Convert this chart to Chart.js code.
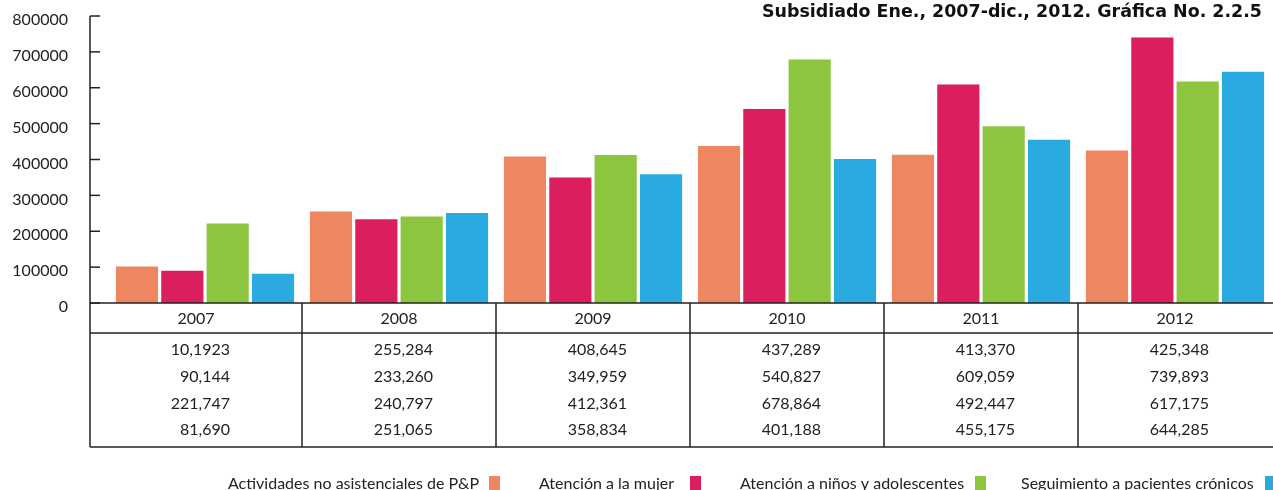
<!DOCTYPE html>
<html>
<head>
<meta charset="utf-8">
<script src="https://cdn.jsdelivr.net/npm/chart.js@4/dist/chart.umd.min.js"></script>
<style>
  html, body { margin: 0; padding: 0; background: #fff; }
  #wrap { width: 1273px; height: 490px; }
</style>
</head>
<body>
<div id="wrap"><canvas id="grafica"></canvas></div>
<script>
// datos
const anios = ['2007', '2008', '2009', '2010', '2011', '2012'];
const actividades = [101923, 255284, 408645, 437289, 413370, 425348];
const mujer = [90144, 233260, 349959, 540827, 609059, 739893];
const ninos = [221747, 240797, 412361, 678864, 492447, 617175];
const cronicos = [81690, 251065, 358834, 401188, 455175, 644285];

// texto de la tabla tal como aparece (incluye el 10,1923 del original)
const txtActividades = ['10,1923', '255,284', '408,645', '437,289', '413,370', '425,348'];
const txtMujer = ['90,144', '233,260', '349,959', '540,827', '609,059', '739,893'];
const txtNinos = ['221,747', '240,797', '412,361', '678,864', '492,447', '617,175'];
const txtCronicos = ['81,690', '251,065', '358,834', '401,188', '455,175', '644,285'];

const nombres = ['Actividades no asistenciales de P&P', 'Atención a la mujer', 'Atención a niños y adolescentes', 'Seguimiento a pacientes crónicos'];
const colores = ['#EF8662', '#DB1E5D', '#8CC63F', '#29AAE1'];
const titulo = 'Subsidiado Ene., 2007-dic., 2012. Gráfica No. 2.2.5';

const fuente = 'Lato, "Open Sans", sans-serif';
const ejeX = 90; // linea vertical del eje y tabla

const tablaPlugin = {
  id: 'tabla',
  afterDraw(chart) {
    const ctx = chart.ctx;
    const x = chart.scales.x;
    const y = chart.scales.y;
    const base = y.getPixelForValue(0);
    const right = chart.width;
    const filaHead = base + 30;
    const fondo = base + 144;

    ctx.save();
    ctx.strokeStyle = '#222';
    ctx.lineWidth = 1.5;

    // eje vertical desde arriba hasta el fondo de la tabla
    ctx.beginPath();
    ctx.moveTo(ejeX, y.getPixelForValue(800000));
    ctx.lineTo(ejeX, fondo);
    ctx.stroke();

    // marcas del eje hacia dentro y sus etiquetas
    ctx.fillStyle = '#222';
    ctx.font = '16px ' + fuente;
    ctx.textAlign = 'right';
    ctx.textBaseline = 'middle';
    y.ticks.forEach(t => {
      const py = y.getPixelForValue(t.value);
      ctx.beginPath();
      ctx.moveTo(ejeX, py);
      ctx.lineTo(ejeX + 10, py);
      ctx.stroke();
      ctx.fillText(String(t.value), 68, py + 4);
    });

    // lineas horizontales
    [base, filaHead, fondo].forEach(py => {
      ctx.beginPath();
      ctx.moveTo(ejeX, py);
      ctx.lineTo(right, py);
      ctx.stroke();
    });

    // separadores entre años
    for (let i = 1; i < anios.length; i++) {
      const px = (x.getPixelForValue(i - 1) + x.getPixelForValue(i)) / 2;
      ctx.beginPath();
      ctx.moveTo(px, base);
      ctx.lineTo(px, fondo);
      ctx.stroke();
    }

    // textos de la tabla
    const filas = [txtActividades, txtMujer, txtNinos, txtCronicos];
    ctx.font = '16px ' + fuente;
    anios.forEach((a, i) => {
      const izq = i === 0 ? ejeX : (x.getPixelForValue(i - 1) + x.getPixelForValue(i)) / 2;
      const der = i === anios.length - 1 ? x.getPixelForValue(i) + (x.getPixelForValue(i) - izq) : (x.getPixelForValue(i) + x.getPixelForValue(i + 1)) / 2;
      const centro = (izq + Math.min(der, right)) / 2;
      ctx.textAlign = 'center';
      ctx.fillText(a, centro, base + 16);
      ctx.textAlign = 'right';
      filas.forEach((f, r) => {
        ctx.fillText(f[i], centro + 34, base + 47 + r * 26.7);
      });
    });

    // leyenda: texto y luego el cuadro
    const posLeyenda = [228, 539, 740, 1021];
    const posCuadro = [489, 690, 975, 1265];
    ctx.textAlign = 'left';
    ctx.font = '16px ' + fuente;
    nombres.forEach((n, i) => {
      ctx.fillStyle = '#222';
      ctx.fillText(n, posLeyenda[i], 484);
      ctx.fillStyle = colores[i];
      ctx.fillRect(posCuadro[i], 476, 11, 14);
    });

    // titulo
    ctx.fillStyle = '#111';
    ctx.font = 'bold 17.5px "DejaVu Sans", sans-serif';
    ctx.textAlign = 'right';
    ctx.textBaseline = 'alphabetic';
    ctx.fillText(titulo, 1262, 17, 500);
    ctx.restore();
  }
};

const series = [actividades, mujer, ninos, cronicos];

new Chart(document.getElementById('grafica'), {
  type: 'bar',
  data: {
    labels: anios,
    datasets: series.map((d, i) => ({
      label: nombres[i],
      data: d,
      backgroundColor: colores[i],
      borderWidth: 0
    }))
  },
  options: {
    responsive: true,
    maintainAspectRatio: false,
    animation: false,
    layout: { padding: { top: 16, bottom: 187, left: 0, right: 1 } },
    datasets: { bar: { categoryPercentage: 0.935, barPercentage: 0.93 } },
    plugins: {
      legend: { display: false },
      tooltip: { enabled: false }
    },
    scales: {
      x: { display: false },
      y: {
        min: 0,
        max: 800000,
        ticks: { stepSize: 100000, display: false },
        grid: { display: false, drawTicks: false },
        border: { display: false },
        afterFit(scale) { scale.width = 108; }
      }
    }
  },
  plugins: [tablaPlugin]
});
</script>
</body>
</html>
